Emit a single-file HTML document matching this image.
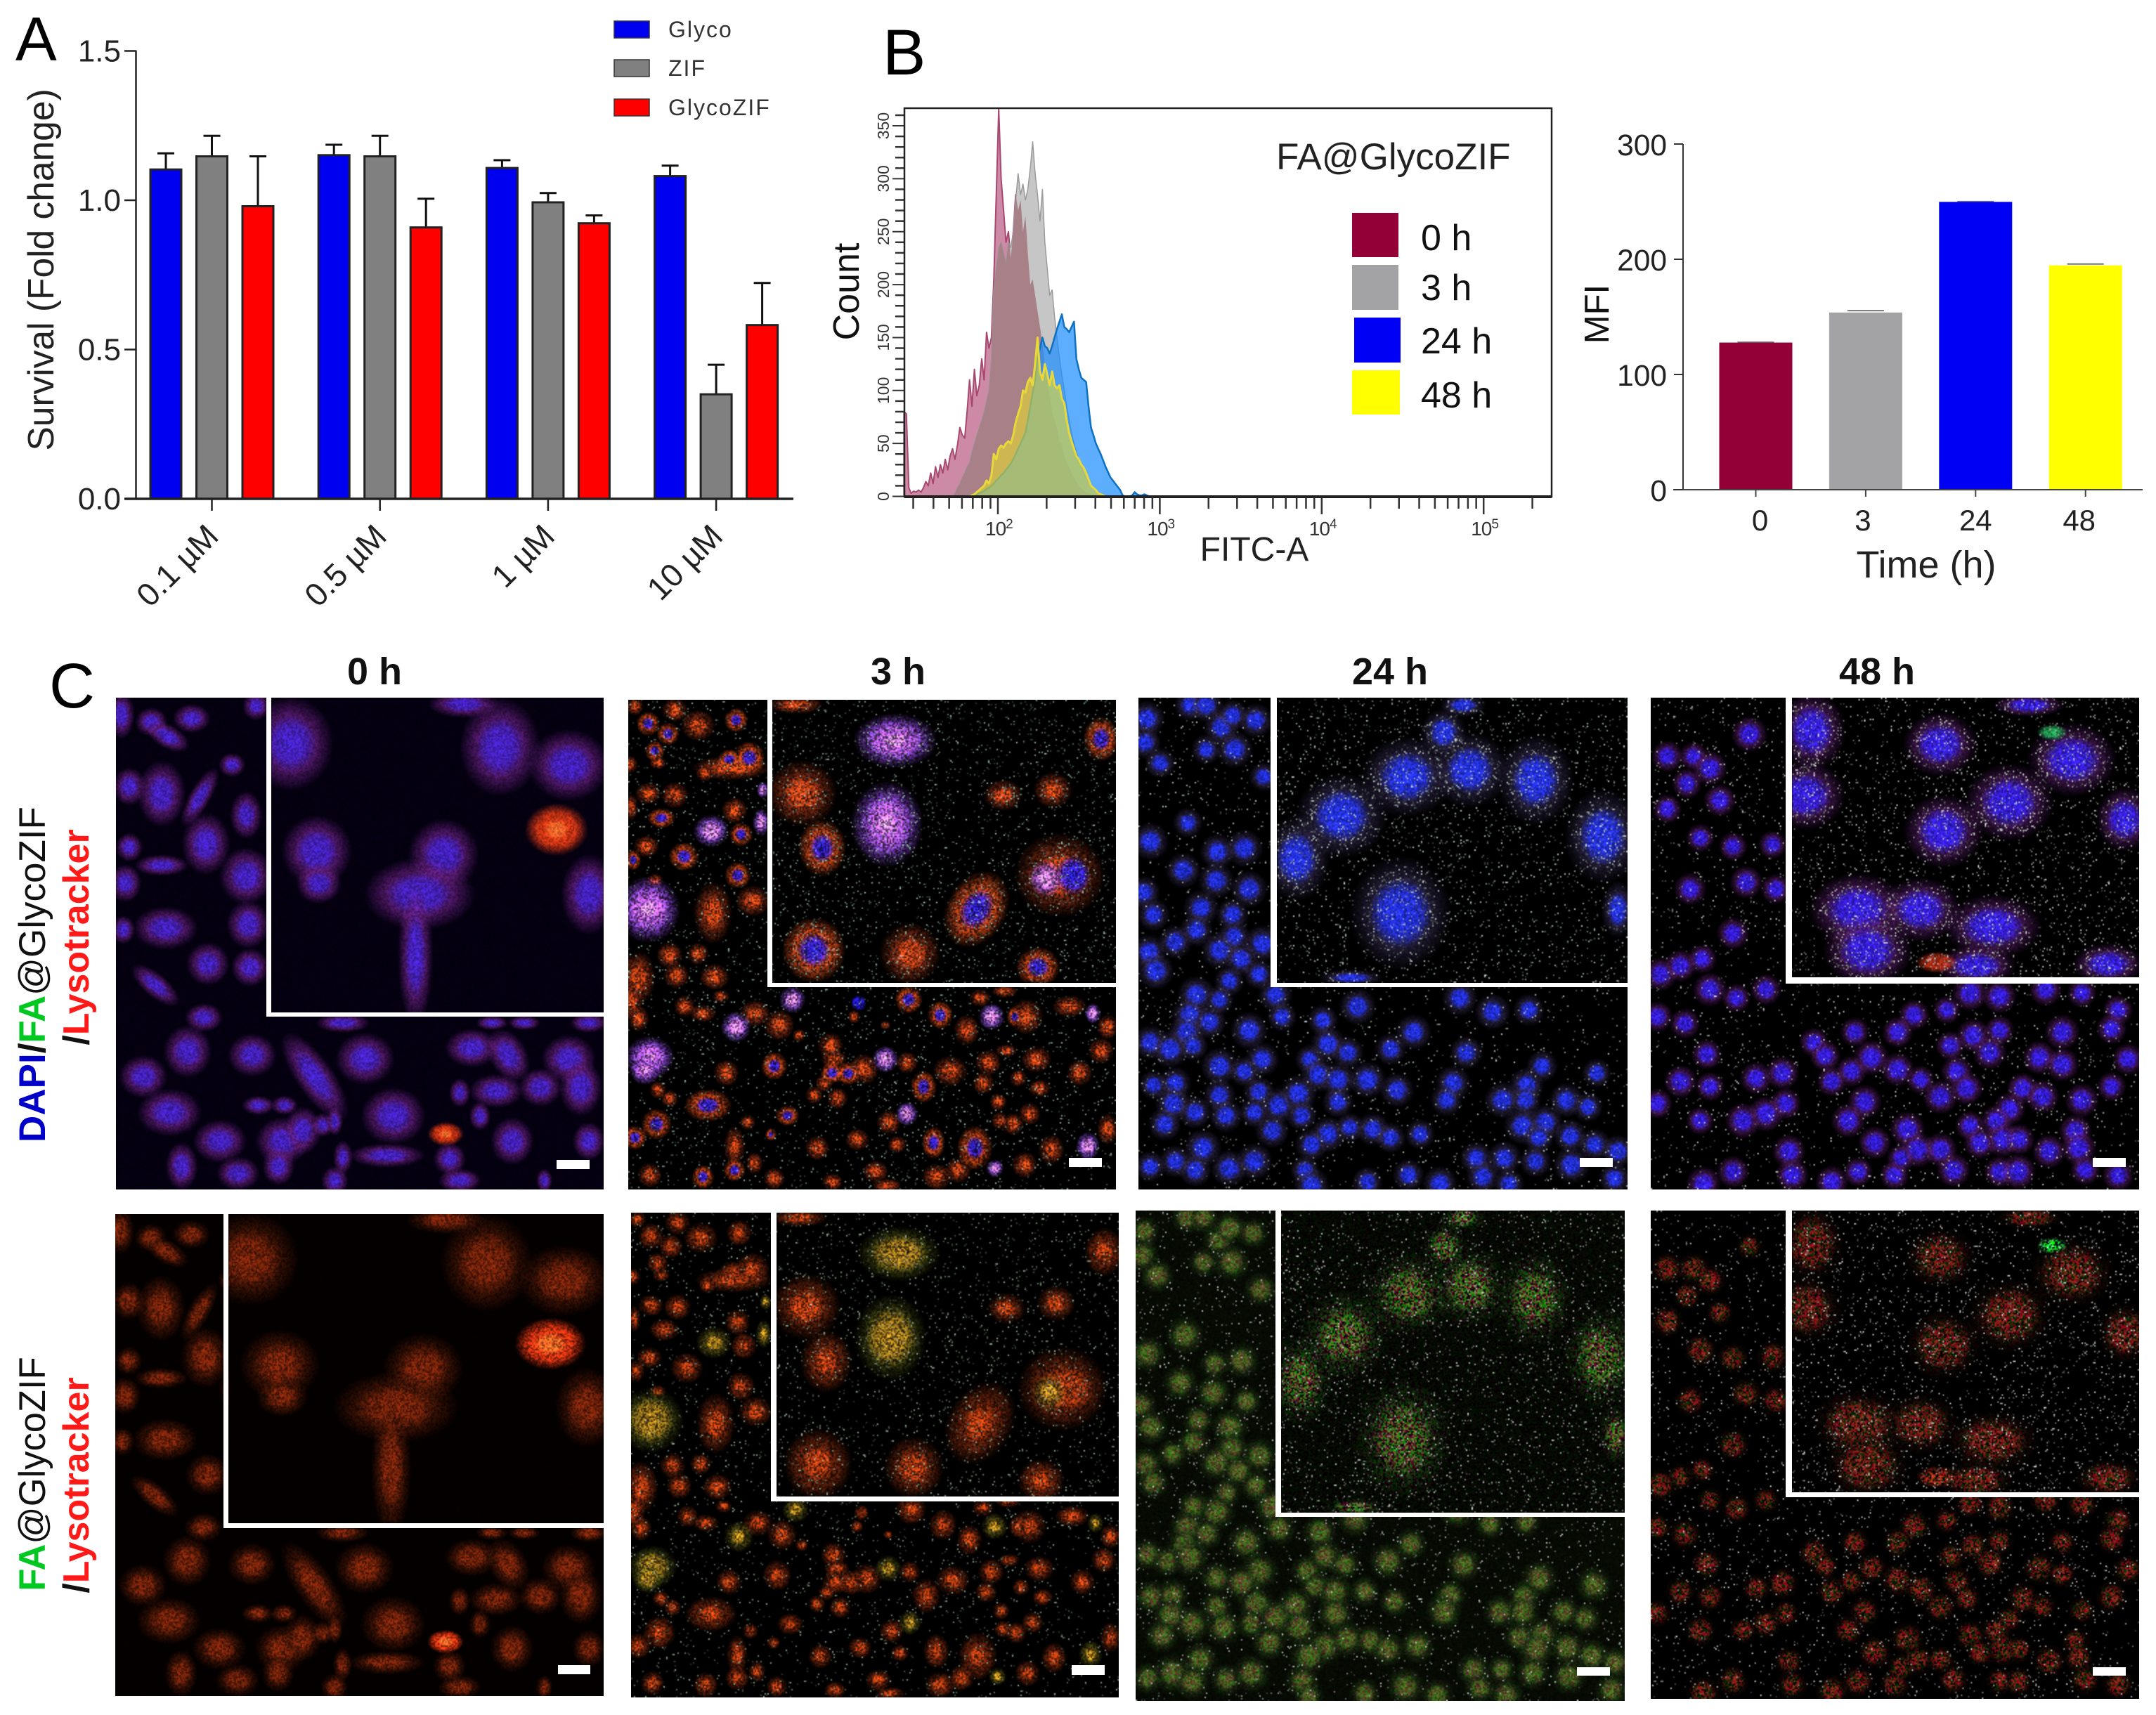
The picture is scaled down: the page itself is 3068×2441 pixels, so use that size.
<!DOCTYPE html>
<html lang="en">
<head>
<meta charset="utf-8">
<title>FA@GlycoZIF composite figure</title>
<style>
html,body{margin:0;padding:0;background:#fff}
#figure{position:relative;width:3068px;height:2441px;overflow:hidden;background:#fff;font-family:"Liberation Sans",sans-serif}
canvas{position:absolute;display:block;background:#000}
svg{position:absolute;left:0;top:0}
text{font-family:"Liberation Sans",sans-serif}
</style>
</head>
<body>
<div id="figure">
<canvas id="m-r1-0" width="347" height="350" style="left:165px;top:993px;width:694px;height:700px"></canvas>
<canvas id="m-r1-3" width="347" height="349" style="left:894px;top:996px;width:694px;height:697px"></canvas>
<canvas id="m-r1-24" width="348" height="350" style="left:1620px;top:993px;width:696px;height:700px"></canvas>
<canvas id="m-r1-48" width="348" height="350" style="left:2349px;top:993px;width:695px;height:700px"></canvas>
<canvas id="m-r2-0" width="348" height="343" style="left:164px;top:1728px;width:695px;height:686px"></canvas>
<canvas id="m-r2-3" width="347" height="345" style="left:898px;top:1726px;width:694px;height:690px"></canvas>
<canvas id="m-r2-24" width="348" height="349" style="left:1616px;top:1723px;width:696px;height:698px"></canvas>
<canvas id="m-r2-48" width="348" height="348" style="left:2349px;top:1723px;width:695px;height:695px"></canvas>

<svg id="overlay" width="3068" height="2441" viewBox="0 0 3068 2441" xmlns="http://www.w3.org/2000/svg">
  <!-- panel letters -->
  <text x="22" y="86" font-size="88" fill="#000">A</text>
  <text x="1256" y="106" font-size="92" fill="#000">B</text>
  <text x="70" y="1007" font-size="90" fill="#000">C</text>

  <!-- panel A static -->
  <g id="chart-a"></g>
  <text transform="translate(76,384) rotate(-90)" text-anchor="middle" font-size="51.5" fill="#222">Survival (Fold change)</text>
  <rect x="874" y="30" width="50" height="24" fill="#0000f0" stroke="#333" stroke-width="1.5"/>
  <text x="951" y="53" font-size="32" letter-spacing="2" fill="#333">Glyco</text>
  <rect x="874" y="85" width="50" height="24" fill="#808080" stroke="#333" stroke-width="1.5"/>
  <text x="951" y="108" font-size="32" letter-spacing="2" fill="#333">ZIF</text>
  <rect x="874" y="141" width="50" height="24" fill="#ff0000" stroke="#333" stroke-width="1.5"/>
  <text x="951" y="164" font-size="32" letter-spacing="2" fill="#333">GlycoZIF</text>

  <!-- panel B histogram -->
  <g id="chart-hist"></g>
  <rect x="1287" y="154" width="921" height="553" fill="none" stroke="#222" stroke-width="2.5"/>
  <text transform="translate(1222,415) rotate(-90)" text-anchor="middle" font-size="52" fill="#111">Count</text>
  <text x="1785" y="798" text-anchor="middle" font-size="48" fill="#222">FITC-A</text>
  <text x="1816" y="241" font-size="53" fill="#222">FA@GlycoZIF</text>
  <rect x="1924" y="303" width="66" height="63" fill="#930037"/>
  <rect x="1924" y="377" width="66" height="64" fill="#a3a3a6"/>
  <rect x="1927" y="452" width="66" height="64" fill="#0000f5"/>
  <rect x="1924" y="527" width="68" height="63" fill="#ffff00"/>
  <text x="2022" y="356" font-size="52" fill="#111">0 h</text>
  <text x="2022" y="427" font-size="52" fill="#111">3 h</text>
  <text x="2022" y="503" font-size="52" fill="#111">24 h</text>
  <text x="2022" y="580" font-size="52" fill="#111">48 h</text>

  <!-- panel B MFI -->
  <g id="chart-mfi"></g>
  <text transform="translate(2289,447) rotate(-90)" text-anchor="middle" font-size="49" fill="#111">MFI</text>
  <text x="2741" y="822" text-anchor="middle" font-size="54" fill="#222">Time (h)</text>

  <!-- panel C headers -->
  <text x="533" y="974" text-anchor="middle" font-size="54" font-weight="bold" fill="#111">0 h</text>
  <text x="1278" y="974" text-anchor="middle" font-size="54" font-weight="bold" fill="#111">3 h</text>
  <text x="1978" y="974" text-anchor="middle" font-size="54" font-weight="bold" fill="#111">24 h</text>
  <text x="2671" y="974" text-anchor="middle" font-size="54" font-weight="bold" fill="#111">48 h</text>

  <!-- row labels -->
  <text transform="translate(64,1387) rotate(-90)" text-anchor="middle" font-size="53" fill="#111"><tspan font-weight="bold" fill="#0000c8">DAPI</tspan><tspan font-weight="bold" fill="#111">/</tspan><tspan font-weight="bold" fill="#00c820">FA</tspan><tspan>@GlycoZIF</tspan></text>
  <text transform="translate(126,1334) rotate(-90)" text-anchor="middle" font-size="52" font-weight="bold" fill="#ff1a1a"><tspan fill="#111">/</tspan>Lysotracker</text>
  <text transform="translate(64,2098) rotate(-90)" text-anchor="middle" font-size="52.5" fill="#111"><tspan font-weight="bold" fill="#00c820">FA</tspan><tspan>@GlycoZIF</tspan></text>
  <text transform="translate(126,2114) rotate(-90)" text-anchor="middle" font-size="52" font-weight="bold" fill="#ff1a1a"><tspan fill="#111">/</tspan>Lysotracker</text>

  <!-- inset borders -->
  <g fill="#fff">
    <path d="M379 993H386V1441H859V1447H379Z"/>
    <path d="M1092 996H1099V1399H1588V1405H1092Z"/>
    <path d="M1808 993H1817V1399H2316V1405H1808Z"/>
    <path d="M2541 993H2550V1391H3044V1400H2541Z"/>
    <path d="M318 1728H325V2168H859V2175H318Z"/>
    <path d="M1097 1726H1105V2130H1592V2137H1097Z"/>
    <path d="M1815 1723H1823V2153H2312V2159H1815Z"/>
    <path d="M2541 1723H2550V2124H3044V2131H2541Z"/>
    <rect x="792" y="1651" width="47" height="13"/>
    <rect x="1521" y="1648" width="47" height="13"/>
    <rect x="2248" y="1648" width="47" height="13"/>
    <rect x="2978" y="1648" width="47" height="13"/>
    <rect x="794" y="2370" width="46" height="13"/>
    <rect x="1525" y="2370" width="47" height="14"/>
    <rect x="2244" y="2373" width="47" height="12"/>
    <rect x="2978" y="2373" width="47" height="12"/>
  </g>
</svg>
</div>

<script>
/* ===== chart data ===== */
const survivalConcentrations = ['0.1 µM','0.5 µM','1 µM','10 µM'];
const survivalSeriesNames = ['glyco','zif','glycozif'];
const survivalGlyco = [1.103,1.151,1.108,1.081];
const survivalZif = [1.147,1.147,0.993,0.350];
const survivalGlycoZif = [0.980,0.909,0.923,0.582];
const survivalGlycoErr = [0.054,0.035,0.026,0.035];
const survivalZifErr = [0.069,0.069,0.031,0.099];
const survivalGlycoZifErr = [0.167,0.096,0.026,0.141];
const survivalTicks = ['0.0','0.5','1.0','1.5'];

const mfiCategories = ['0','3','24','48'];
const mfiValues = [127.7,153.8,249.8,194.7];
const mfiErrors = [0.3,1.6,0.3,1.2];
const mfiTicks = [0,100,200,300];

const histLogStart = 1.42;
const histLogStep = 0.015;
const histCount0h = [80,78,8,3,5,4,6,4,8,14,10,22,12,28,18,30,22,35,25,38,45,35,48,65,58,55,80,110,85,120,95,105,130,110,155,140,150,205,285,366,300,270,240,250,225,250,285,270,280,250,265,230,200,205,190,175,160,145,125,110,95,80,72,65,52,50,38,32,28,22,18,14,10,8,5,4,3,2,1,1,0];
const histCount3h = [0,0,0,0,0,0,0,0,0,0,0,0,0,0,0,0,0,0,0,0,0,3,8,12,18,22,28,32,42,50,58,65,72,80,90,100,130,195,215,235,240,230,220,240,235,250,280,305,285,295,280,290,310,335,305,285,260,290,240,215,190,195,170,150,130,115,100,85,72,60,50,42,34,28,22,17,13,10,7,5,3,2,1,0];
const histCount24h = [0,0,0,0,0,0,0,0,0,0,0,0,0,0,0,0,0,0,0,0,0,0,0,0,0,0,0,0,0,0,2,3,4,5,7,8,10,12,15,17,20,22,25,28,31,35,40,45,50,55,60,72,85,98,110,130,140,150,142,140,135,142,150,158,165,172,160,158,155,160,165,130,120,112,110,108,85,65,58,50,45,40,34,28,23,18,15,12,9,6,1,0,0,0,1,4,2,1,1,2,1,0];
const histCount48h = [0,0,0,0,0,0,0,0,0,0,0,0,0,0,0,0,0,0,0,0,0,0,0,0,0,0,0,0,1,2,4,6,8,10,15,12,20,40,35,45,48,46,50,52,50,58,70,78,85,100,98,108,112,105,125,150,118,110,125,115,105,118,105,102,105,92,88,72,60,52,45,38,35,30,27,22,16,10,8,6,3,2,1,0];
const histCountTicks = [0,50,100,150,200,250,300,350];
const histDecades = [2,3,4,5];

/* ===== helpers ===== */
const NS = 'http://www.w3.org/2000/svg';
function svgEl(parent, tag, attrs, txt){
  const e = document.createElementNS(NS, tag);
  for (const k in attrs) e.setAttribute(k, attrs[k]);
  if (txt !== undefined) e.textContent = txt;
  parent.appendChild(e);
  return e;
}

/* ===== panel A ===== */
(function(){
  const g = document.getElementById('chart-a');
  const yA = v => 710 - 425 * v;
  const xA = (grp, ser) => 301.5 + 239.2 * grp + (ser - 1) * 65.5;
  const vals = [survivalGlyco, survivalZif, survivalGlycoZif];
  const errs = [survivalGlycoErr, survivalZifErr, survivalGlycoZifErr];
  const cols = ['#0000f0','#808080','#ff0000'];
  const bw = 44;
  vals.forEach((series, s) => {
    series.forEach((v, i) => {
      const x = xA(i, s);
      const ev = v + errs[s][i];
      const eLine = svgEl(g, 'line', {x1:x, x2:x, y1:yA(v), y2:yA(ev), stroke:'#111', 'stroke-width':3});
      
      
      const eCap = svgEl(g, 'line', {x1:x-12, x2:x+12, y1:yA(ev), y2:yA(ev), stroke:'#111', 'stroke-width':3});
      
      
      const r = svgEl(g, 'rect', {x:x-bw/2, y:yA(v), width:bw, height:710-yA(v), fill:cols[s], stroke:'#222', 'stroke-width':3});
      
      
    });
  });
  const yAxis = svgEl(g, 'line', {x1:193.5, x2:193.5, y1:yA(1.5)-1, y2:711, stroke:'#222', 'stroke-width':2.5});
  
  
  const xAxis = svgEl(g, 'line', {x1:177, x2:1129, y1:710, y2:710, stroke:'#222', 'stroke-width':3.5});
  
  
  survivalTicks.forEach(t => {
    const y = yA(parseFloat(t));
    const tk = svgEl(g, 'line', {x1:177, x2:193, y1:y, y2:y, stroke:'#222', 'stroke-width':2.5});
    
    
    const lb = svgEl(g, 'text', {x:172, y:y+15, 'text-anchor':'end', 'font-size':44, fill:'#222'}, t);
    
    
  });
  survivalConcentrations.forEach((c, i) => {
    const x = xA(i, 1);
    const tk = svgEl(g, 'line', {x1:x, x2:x, y1:710, y2:727, stroke:'#222', 'stroke-width':2.5});
    
    
    const lb = svgEl(g, 'text', {transform:'translate('+(x+12)+',766) rotate(-45)', 'text-anchor':'end', 'font-size':46, fill:'#222'}, c);
    
    
  });
})();

/* ===== panel B histogram ===== */
(function(){
  const g = document.getElementById('chart-hist');
  const xH = lg => 1420 + 230.4 * (lg - 2);
  const yH = c => 706.5 - 1.507 * c;
  function areaPath(data){
    let d = 'M' + xH(histLogStart) + ' ' + yH(0);
    data.forEach((c, i) => { d += 'L' + xH(histLogStart + i * histLogStep).toFixed(1) + ' ' + yH(c).toFixed(1); });
    d += 'L' + xH(histLogStart + (data.length - 1) * histLogStep).toFixed(1) + ' ' + yH(0) + 'Z';
    return d;
  }
  const d0 = areaPath(histCount0h), d3 = areaPath(histCount3h), d24 = areaPath(histCount24h), d48 = areaPath(histCount48h);

  const p0 = svgEl(g, 'path', {d:d0, fill:'#cc8aa6', stroke:'#a8476f', 'stroke-width':2, 'stroke-linejoin':'round'});
  
  

  const p3 = svgEl(g, 'path', {d:d3, fill:'#c6c6c6', stroke:'#9a9a9a', 'stroke-width':1.5, 'stroke-linejoin':'round'});
  
  

  const clip = svgEl(g, 'clipPath', {id:'clip-3h'});
  svgEl(clip, 'path', {d:d3});
  const overlap = svgEl(g, 'path', {d:d0, fill:'#a88088', 'clip-path':'url(#clip-3h)'});
  
  

  const p24 = svgEl(g, 'path', {d:d24, fill:'#1f8fff', 'fill-opacity':.72, stroke:'#0d70c0', 'stroke-width':2.5, 'stroke-linejoin':'round'});
  
  

  const p48 = svgEl(g, 'path', {d:d48, fill:'#e8dc30', 'fill-opacity':.6, stroke:'#e8d83a', 'stroke-width':3, 'stroke-linejoin':'round'});
  
  

  const tickCounts = [];
  for (let c = 0; c <= 360; c += 10) tickCounts.push(c);
  tickCounts.forEach(c => {
    const major = c % 50 === 0;
    const t = svgEl(g, 'line', {x1:major?1270:1274, x2:1287, y1:yH(c), y2:yH(c), stroke:'#333', 'stroke-width':major?2:2.5});
    
    
  });
  histCountTicks.forEach(c => {
    const l = svgEl(g, 'text', {transform:'translate(1265,'+yH(c)+') rotate(-90)', 'text-anchor':'middle', 'font-size':23, fill:'#333'}, String(c));
    
    
  });
  const bottom = svgEl(g, 'line', {x1:1287, x2:2208, y1:707, y2:707, stroke:'#1a1a1a', 'stroke-width':4});
  
  
  [1,2,3,4,5].forEach(dec => {
    for (let m = 1; m <= 9; m++) {
      const lg = dec + Math.log10(m);
      const x = xH(lg);
      if (x < 1290 || x > 2207) continue;
      const t = svgEl(g, 'line', {x1:x, x2:x, y1:707, y2:m === 1 ? 732 : 724, stroke:'#333', 'stroke-width':2.5});
      
      
    }
  });
  histDecades.forEach(dec => {
    const x = xH(dec);
    const l = svgEl(g, 'text', {x:x-18, y:762, 'font-size':28, fill:'#333', 'letter-spacing':'-1'});
    
    
    svgEl(l, 'tspan', {}, '10');
    svgEl(l, 'tspan', {dy:-10, 'font-size':19}, String(dec));
  });
})();

/* ===== panel B MFI ===== */
(function(){
  const g = document.getElementById('chart-mfi');
  const yM = v => 697 - 1.64 * v;
  const xM = i => 2498.5 + 156.4 * i;
  const labelShift = [6,-4,0,-9];
  const cols = ['#930037','#a3a3a6','#0000f5','#ffff00'];
  mfiValues.forEach((v, i) => {
    const cap = svgEl(g, 'line', {x1:xM(i)-26, x2:xM(i)+26, y1:yM(v+mfiErrors[i]), y2:yM(v+mfiErrors[i]), stroke:'#777', 'stroke-width':2});
    
    
    const r = svgEl(g, 'rect', {x:xM(i)-52, y:yM(v), width:104, height:697-yM(v), fill:cols[i]});
    
    
    const t = svgEl(g, 'line', {x1:xM(i), x2:xM(i), y1:697, y2:707, stroke:'#444', 'stroke-width':2});
    
    
    const l = svgEl(g, 'text', {x:xM(i)+labelShift[i], y:755, 'text-anchor':'middle', 'font-size':42, fill:'#222'}, mfiCategories[i]);
    
    
  });
  const yAxis = svgEl(g, 'line', {x1:2395, x2:2395, y1:yM(300), y2:697, stroke:'#333', 'stroke-width':2});
  
  
  const xAxis = svgEl(g, 'line', {x1:2381, x2:3049, y1:697, y2:697, stroke:'#444', 'stroke-width':2});
  
  
  mfiTicks.forEach(v => {
    const t = svgEl(g, 'line', {x1:2382, x2:2395, y1:yM(v), y2:yM(v), stroke:'#333', 'stroke-width':2});
    
    
    const l = svgEl(g, 'text', {x:2372, y:yM(v)+16, 'text-anchor':'end', 'font-size':42.5, fill:'#222'}, String(v));
    
    
  });
})();

/* ===== micrographs (procedurally painted fields of cells) ===== */
const field0 = {
  main:{x0:287,x1:1497,y0:182,y1:1555, cells:{
    n:[[300,230,25,50],[375,250,30,30],[475,240,35,30],[415,290,45,25,30],[635,205,25,30],[575,370,25,25],[400,450,45,70],[495,460,20,70,30],[320,430,30,40],[510,590,45,65],[400,650,50,22],[320,600,25,30],[610,680,50,60],[310,700,30,40],[410,825,60,45],[615,815,40,50],[305,830,22,30],[515,925,40,45],[620,935,35,40],[385,985,55,25,40],[610,510,30,50],[505,1075,35,30],[465,1170,45,55],[625,1180,45,45],[355,1240,45,45],[905,1190,55,55],[780,1240,35,110,-35],[1170,1160,50,40],[1260,1180,35,60,-30],[1410,1190,50,50],[1440,1270,40,60],[1340,1270,40,40],[1230,1280,50,35],[1140,1285,20,30],[420,1340,60,50],[640,1320,30,20],[705,1320,25,20],[975,1350,60,60],[700,1420,50,50],[750,1390,35,50],[800,1375,20,25],[830,1365,15,30],[545,1420,50,45],[450,1490,30,50],[850,1465,18,35],[960,1460,70,25],[1115,1470,30,35],[690,1490,30,40],[590,1510,40,35],[830,1530,25,30],[1270,1420,40,50],[1190,1350,20,30],[1140,1530,40,25],[1460,1420,30,40],[1350,1530,15,25],[850,1090,50,20],[1220,1090,30,15],[1300,1090,30,15],[1460,1090,35,20]],
    r:[[1105,1400,40,30]]}},
  inset:{x0:672,x1:1497,y0:182,y1:1060, cells:{
    n:[[720,310,85,105],[1240,320,80,110],[1410,370,80,80],[1150,200,70,30],[785,610,70,80],[790,700,45,45],[1100,620,70,80],[1040,730,110,80],[1460,730,55,90],[1030,900,35,160]],
    r:[[1380,550,75,70]]}}
};
const field3 = {
  main:{x0:30,x1:1500,y0:75,y1:1512, cells:{
    o:[[50,95,20,20],[170,105,30,28],[240,150,40,35],[35,265,18,20],[120,260,20,15],[340,275,90,28],[260,290,20,20],[170,355,32,30],[90,350,30,25],[350,400,30,30],[40,390,15,30],[85,505,30,25],[405,665,40,35],[285,700,45,70],[110,605,20,15],[155,825,30,30],[240,820,25,25],[60,890,40,60],[175,885,30,30],[290,888,35,30],[40,960,25,40],[310,945,20,15],[200,975,25,25],[255,995,30,20],[60,1010,25,30],[412,995,35,30],[485,1030,35,35],[545,1060,15,15],[710,1005,15,15],[805,1030,12,10],[1090,950,25,20],[1165,930,30,15],[1050,1045,30,35],[1230,1005,40,40],[1360,975,40,25],[1475,1035,25,28],[325,1170,30,30],[640,1090,30,30],[650,1130,30,20],[740,1160,35,35],[620,1200,20,20],[590,1235,20,20],[660,1245,25,25],[870,1140,25,25],[1000,1165,40,35],[1115,1140,30,30],[1170,1105,25,15],[1260,1130,35,30],[1205,1185,20,20],[1100,1200,25,25],[1270,1215,25,20],[1455,1105,30,30],[1390,1170,30,30],[120,1220,20,20],[155,1245,20,20],[815,1315,28,28],[1145,1255,20,20],[1190,1320,25,25],[1240,1290,25,25],[1150,1310,20,20],[1475,1335,25,35],[390,1315,18,18],[350,1385,25,45],[600,1390,28,28],[720,1365,28,25],[840,1380,22,20],[1305,1395,30,35],[1225,1440,30,30],[95,1470,28,28],[410,1435,20,25],[470,1480,25,25],[775,1460,30,25],[645,1490,25,20],[810,1500,35,15],[960,1475,35,30],[1025,1455,30,30]],
    b:[[90,145,30,30],[150,175,28,28],[355,135,30,30],[110,225,25,25],[395,245,40,40],[335,250,30,25],[130,422,35,25],[370,470,30,30],[198,535,38,35],[360,590,33,33],[45,545,20,25],[875,955,35,35],[970,1000,32,35],[1195,1005,20,25],[470,1150,33,35],[645,1170,30,28],[693,1172,30,28],[920,1210,33,40],[270,1265,60,40],[510,1295,30,25],[115,1320,38,38],[50,1360,30,30],[460,1350,15,15],[950,1375,30,40],[1075,1390,45,55],[255,1475,28,30],[350,1455,28,28]],
    B:[[725,965,22,22]],
    p:[[280,460,45,40],[435,340,15,20],[430,435,20,35],[525,955,33,33],[355,1035,38,38],[1125,1005,33,33],[1430,995,20,25],[805,1130,33,33],[870,1290,28,30],[1415,1385,30,35],[1135,1450,22,22]],
    P:[[90,690,85,85],[95,1125,65,55],[80,1160,40,40]]}},
  inset:{x0:465,x1:1500,y0:75,y1:905, cells:{
    o:[[555,350,80,75],[880,820,70,70],[535,90,65,20],[1160,355,45,35],[1310,340,45,40],[1330,590,105,95]],
    b:[[615,510,60,70],[1080,690,75,100,30],[590,810,80,80],[1265,860,55,50],[1455,190,45,55]],
    B:[[1370,590,50,55]],
    p:[[1290,600,45,45]],
    P:[[835,195,110,70],[810,440,95,110]]}}
};
const field24 = {
  main:{x0:22,x1:765,y0:68,y1:1512, cells:{
    n:[[100,90],[125,90],[35,130],[148,155],[200,135],[165,120],[32,200],[168,220],[125,220],[55,260],[212,300],[97,435],[40,490],[142,520],[183,510],[90,575],[140,605],[190,630],[30,640],[117,685],[45,705],[165,705],[110,750],[167,770],[78,785],[210,790],[145,810],[178,835],[38,815],[48,870],[160,900],[205,880],[110,940],[145,955],[230,940],[355,975],[510,950],[560,990],[615,985],[240,1005],[302,1015],[100,1000],[130,1020],[190,1045],[95,1050],[40,1080],[70,1100],[105,1090],[310,1085],[340,1110],[440,1050],[405,1100],[520,1110],[145,1150],[210,1130],[183,1165],[282,1130],[295,1175],[325,1190],[370,1190],[415,1220],[635,1150],[718,1170],[500,1200],[612,1205],[45,1205],[78,1200],[75,1260],[205,1225],[145,1235],[235,1265],[265,1230],[325,1255],[490,1250],[575,1250],[610,1250],[672,1250],[705,1270],[108,1285],[155,1295],[198,1285],[270,1295],[62,1320],[310,1350],[343,1330],[378,1335],[405,1360],[225,1340],[450,1350],[605,1325],[640,1315],[630,1360],[678,1355],[285,1380],[120,1390],[715,1380],[750,1400],[40,1445],[78,1430],[108,1455],[160,1450],[198,1430],[275,1455],[535,1420],[578,1420],[625,1430],[680,1440],[370,1490],[432,1470],[480,1495],[545,1475],[585,1495],[285,1500],[745,1480]]}},
  inset:{x0:232,x1:765,y0:68,y1:905, cells:{
    n:[[430,300,50,85],[330,415,50,90],[525,280,42,80],[625,310,42,95],[262,540,36,90],[728,475,42,100],[420,700,55,120],[515,90,25,25],[750,690,18,60],[345,890,35,18],[485,170,25,50]]}},
  defaultR:[18,35]
};
const field48 = {
  main:{x0:800,x1:1542,y0:68,y1:1512, cells:{
    n:[[950,175],[825,240],[865,240],[890,275],[855,320],[905,370],[825,395],[875,480],[925,505],[985,500],[860,630],[945,610],[990,630],[925,760],[815,880],[845,855],[878,835],[890,925],[930,950],[975,925],[810,1005],[852,1025],[1285,935],[1330,945],[1400,925],[1455,935],[1200,1000],[1250,985],[1510,985],[1110,1050],[1175,1050],[1290,1060],[1330,1045],[1425,1050],[1500,1040],[1048,1080],[1065,1120],[1255,1090],[885,1115],[1135,1125],[1315,1110],[1390,1125],[1425,1145],[1525,1130],[1000,1170],[1105,1165],[1175,1160],[960,1185],[845,1195],[890,1210],[1075,1195],[1265,1165],[1210,1190],[1365,1215],[1500,1210],[1240,1240],[1280,1215],[1125,1255],[1005,1260],[1395,1240],[1455,1250],[810,1260],[975,1290],[1345,1275],[940,1310],[1100,1310],[875,1310],[1285,1325],[1190,1335],[1325,1310],[1445,1340],[1300,1375],[1335,1365],[1360,1365],[1140,1375],[1240,1395],[1405,1400],[1450,1390],[1010,1400],[1205,1395],[925,1460],[1015,1470],[1115,1460],[1170,1470],[1260,1455],[1330,1460],[1358,1460],[1460,1455],[1510,1470],[880,1495],[1075,1490],[1180,1420]]}},
  inset:{x0:1015,x1:1542,y0:68,y1:890, cells:{
    n:[[1045,165,38,85],[1240,205,42,70],[1440,250,50,80],[1035,355,45,75],[1345,375,50,85],[1245,460,45,80],[1520,425,32,70],[1115,690,55,80],[1210,690,45,70],[1320,740,55,70],[1130,810,50,80],[1295,855,45,45],[1495,850,40,45],[1375,90,40,25]],
    g:[[1410,170,22,22]],
    r:[[1235,845,30,30]]}},
  defaultR:[18,35]
};

const palettes = {
  r1c0:{n:[[100,30,125,1.2,.85],[62,35,220,.72,.8]], r:[[235,60,20,1,1],[255,120,50,.4,.8]]},
  r2c0:{n:[[72,22,6,1.2,.85],[125,36,10,.75,.85]], r:[[255,60,20,1,1],[255,110,40,.45,.9]]},
  r1c3:{o:[[105,35,15,1.25,.9],[215,70,20,.68,.85]], b:[[190,65,20,1.15,.9],[35,25,205,.6,1]], B:[[35,25,225,1,1]], p:[[120,70,190,1.15,.9],[225,130,240,.7,.95]], P:[[120,60,190,1.1,.9],[175,90,225,.75,.95],[225,140,240,.3,.8]]},
  r2c3:{o:[[90,30,10,1.25,.9],[190,62,15,.68,.85]], b:[[100,32,10,1.25,.9],[185,60,14,.6,.85]], B:[[130,42,12,1,.8]], p:[[80,75,18,1.15,.8],[195,140,28,.6,.9]], P:[[70,75,18,1.1,.8],[165,120,28,.75,.9]]},
  r1c24:{n:[[55,45,85,1.35,.7],[32,48,238,.82,1]]},
  r2c24:{n:[[30,48,18,1.35,.85],[85,98,36,.85,.9]]},
  r1c48:{n:[[90,30,110,1.3,.75],[50,28,235,.82,1]], g:[[30,180,90,1,.9]], r:[[200,50,20,1,.9]]},
  r2c48:{n:[[42,18,10,1.25,.8],[115,38,20,.9,.95]], g:[[20,200,60,1,1]], r:[[170,45,20,1,.9]]}
};

const micrographs = [
  {id:'m-r1-0', px:165,py:993,pw:694,ph:700, ix:386,iy:1441, field:field0, pal:palettes.r1c0, scale:1.12, bg:'#040010', g0:.7,g1:.6, specM:0, specI:0, cellSpec:0, specC:[255,255,255], indep:false, hcMain:false, hcInset:false, hcGain:2},
  {id:'m-r1-3', px:894,py:996,pw:694,ph:697, ix:1099,iy:1399, field:field3, pal:palettes.r1c3, scale:1.05, bg:'#000', g0:.25,g1:1.5, specM:.04, specI:.05, cellSpec:.06, specC:[170,210,190], indep:false, hcMain:false, hcInset:false, hcGain:2},
  {id:'m-r1-24', px:1620,py:993,pw:696,ph:700, ix:1817,iy:1399, field:field24, pal:palettes.r1c24, scale:1.05, bg:'#000', g0:.6,g1:.8, specM:.025, specI:.05, cellSpec:.1, specC:[215,235,230], indep:false, hcMain:false, hcInset:false, hcGain:2},
  {id:'m-r1-48', px:2349,py:993,pw:695,ph:700, ix:2550,iy:1391, field:field48, pal:palettes.r1c48, scale:1.05, bg:'#000', g0:.6,g1:.8, specM:.03, specI:.05, cellSpec:.1, specC:[235,235,235], indep:false, hcMain:false, hcInset:false, hcGain:2},
  {id:'m-r2-0', px:164,py:1728,pw:695,ph:686, ix:325,iy:2168, field:field0, pal:palettes.r2c0, scale:1.12, bg:'#040000', g0:.45,g1:1.1, specM:0, specI:0, cellSpec:0, specC:[255,255,255], indep:false, hcMain:false, hcInset:false, hcGain:2},
  {id:'m-r2-3', px:898,py:1726,pw:694,ph:690, ix:1105,iy:2130, field:field3, pal:palettes.r2c3, scale:1.05, bg:'#000', g0:.25,g1:1.5, specM:.03, specI:.04, cellSpec:.03, specC:[170,200,170], indep:false, hcMain:false, hcInset:false, hcGain:2},
  {id:'m-r2-24', px:1616,py:1723,pw:696,ph:698, ix:1823,iy:2153, field:field24, pal:palettes.r2c24, scale:1.1, bg:'#060a03', g0:.4,g1:1.2, specM:.03, specI:.05, cellSpec:.03, specC:[225,235,225], indep:true, hcMain:false, hcInset:true, hcGain:1.5},
  {id:'m-r2-48', px:2349,py:1723,pw:695,ph:695, ix:2550,iy:2124, field:field48, pal:palettes.r2c48, scale:1.05, bg:'#000', g0:.3,g1:1.4, specM:.03, specI:.05, cellSpec:.03, specC:[230,235,230], indep:true, hcMain:true, hcInset:true, hcGain:1.4}
];

function mulberry32(a){
  return function(){
    a |= 0; a = a + 0x6D2B79F5 | 0;
    let t = Math.imul(a ^ a >>> 15, 1 | a);
    t = t + Math.imul(t ^ t >>> 7, 61 | t) ^ t;
    return ((t ^ t >>> 14) >>> 0) / 4294967296;
  };
}

function paintCells(ctx, sub, rect, pal, defR, rng, scale){
  const sx = rect.w / (sub.x1 - sub.x0);
  const sy = rect.h / (sub.y1 - sub.y0);
  for (const type in sub.cells) {
    const layers = pal[type] || pal.n || pal.o;
    sub.cells[type].forEach(c => {
      const jit = c.length < 3 ? 0.88 + rng() * 0.26 : 1;
      const rx = (c.length > 2 ? c[2] : defR[0] * jit) * sx * scale;
      const ry = (c.length > 3 ? c[3] : defR[1] * jit) * sy * scale;
      const rot = (c[4] || 0) * Math.PI / 180;
      const cx = rect.x + (c[0] - sub.x0) * sx;
      const cy = rect.y + (c[1] - sub.y0) * sy;
      layers.forEach(l => {
        ctx.save();
        ctx.translate(cx, cy);
        ctx.rotate(rot);
        ctx.scale(rx * l[3], ry * l[3]);
        const gr = ctx.createRadialGradient(0, 0, 0, 0, 0, 1);
        const rgb = l[0] + ',' + l[1] + ',' + l[2];
        gr.addColorStop(0, 'rgba(' + rgb + ',' + l[4] + ')');
        gr.addColorStop(0.6, 'rgba(' + rgb + ',' + (l[4] * 0.8) + ')');
        gr.addColorStop(1, 'rgba(' + rgb + ',0)');
        ctx.fillStyle = gr;
        ctx.beginPath();
        ctx.arc(0, 0, 1, 0, Math.PI * 2);
        ctx.fill();
        ctx.restore();
      });
    });
  }
}

micrographs.forEach((m, idx) => {
  const cv = document.getElementById(m.id);
  const ctx = cv.getContext('2d');
  const W = cv.width, H = cv.height;
  const k = W / m.pw;
  const rng = mulberry32(1234 + idx * 97);
  ctx.fillStyle = m.bg;
  ctx.fillRect(0, 0, W, H);
  const defR = m.field.defaultR || [20, 20];
  paintCells(ctx, m.field.main, {x:0, y:0, w:W, h:H}, m.pal, defR, rng, m.scale);
  const ir = {x:(m.ix - m.px) * k, y:0, w:W - (m.ix - m.px) * k, h:(m.iy - m.py) * k};
  ctx.save();
  ctx.beginPath();
  ctx.rect(ir.x, ir.y, ir.w, ir.h);
  ctx.clip();
  ctx.fillStyle = m.bg;
  ctx.fillRect(ir.x, ir.y, ir.w, ir.h);
  paintCells(ctx, m.field.inset, ir, m.pal, defR, rng, 1.05);
  ctx.restore();
  const img = ctx.getImageData(0, 0, W, H);
  const d = img.data;
  for (let p = 0, i = 0; i < d.length; i += 4, p++) {
    const px = p % W, py = (p - px) / W;
    const inInset = px >= ir.x && py < ir.h;
    const hc = inInset ? m.hcInset : m.hcMain;
    const grain = () => {
      const n = rng();
      if (hc) return n < 0.5 ? 0.08 : m.hcGain;
      return m.g0 + m.g1 * n;
    };
    const lum = d[i] + d[i + 1] + d[i + 2];
    const g = grain();
    const g2 = m.indep ? grain() : g;
    d[i] = Math.min(255, d[i] * g);
    d[i + 1] = Math.min(255, d[i + 1] * g2);
    d[i + 2] = Math.min(255, d[i + 2] * g);
    let prob = inInset ? m.specI : m.specM;
    if (inInset && lum > 70) prob += m.cellSpec;
    if (prob > 0 && rng() < prob) {
      const r = rng();
      const a = 0.25 + 0.75 * r * r;
      d[i] = Math.max(d[i], m.specC[0] * a);
      d[i + 1] = Math.max(d[i + 1], m.specC[1] * a);
      d[i + 2] = Math.max(d[i + 2], m.specC[2] * a);
    }
  }
  ctx.putImageData(img, 0, 0);
});
</script>
</body>
</html>
